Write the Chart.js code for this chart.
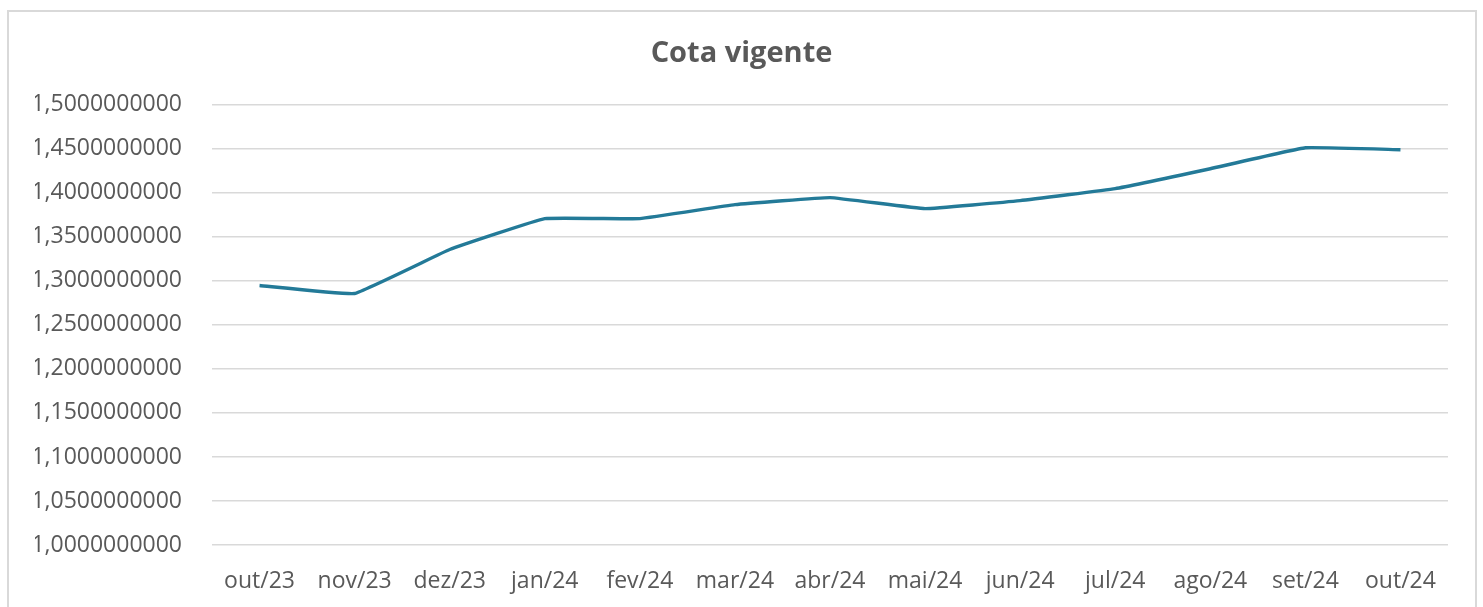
<!DOCTYPE html>
<html>
<head>
<meta charset="utf-8">
<script src="https://cdn.jsdelivr.net/npm/chart.js@4"></script>
<style>
  html, body { margin: 0; padding: 0; background: #fff; overflow: hidden; }
  #frame { position: absolute; left: 7px; top: 10px; width: 1466px; height: 640px; border: 2px solid #d9d9d9; }
  #wrap { position: absolute; left: 0; top: 0; width: 1483px; height: 607px; }
</style>
</head>
<body>
<div id="frame"></div>
<div id="wrap"><canvas id="cota"></canvas></div>
<script>
const months = ['out/23', 'nov/23', 'dez/23', 'jan/24', 'fev/24', 'mar/24', 'abr/24',
  'mai/24', 'jun/24', 'jul/24', 'ago/24', 'set/24', 'out/24'];
const cotaVigente = [1.2948, 1.2857, 1.3356, 1.3707, 1.3707, 1.3866, 1.3946,
  1.3821, 1.3912, 1.4048, 1.4274, 1.4512, 1.4490];
const yMin = 1.0, yMax = 1.5, yStep = 0.05;

const ctx = document.getElementById('cota');
new Chart(ctx, {
  type: 'line',
  data: {
    labels: months,
    datasets: [{
      label: 'Cota vigente',
      data: cotaVigente,
      borderColor: '#237a98',
      borderWidth: 3.4,
      pointRadius: 0,
      tension: 0.08,
      fill: false
    }]
  },
  options: {
    responsive: true,
    maintainAspectRatio: false,
    animation: false,
    // equal side padding keeps the title centred on the page
    layout: { padding: { left: 35, right: 35, top: 10, bottom: 0 } },
    plugins: {
      legend: { display: false },
      tooltip: { enabled: false },
      title: {
        display: true,
        text: 'Cota vigente',
        color: '#595959',
        font: { family: 'Open Sans', size: 29, weight: 'bold' },
        padding: { top: 26, bottom: 34 }
      }
    },
    scales: {
      x: {
        offset: true,
        afterFit: s => { s.height = 62; },
        grid: { display: false },
        border: { display: false },
        ticks: {
          color: '#595959',
          font: { family: 'Open Sans', size: 23 },
          padding: 15,
          maxRotation: 0
        }
      },
      y: {
        min: yMin,
        max: yMax,
        afterFit: s => { s.width = 177; },
        grid: { color: '#d9d9d9', lineWidth: 1.5, drawTicks: false },
        border: { display: false },
        ticks: {
          stepSize: yStep,
          color: '#595959',
          font: { family: 'Open Sans', size: 23 },
          padding: 30,
          callback: v => v.toFixed(10).replace('.', ',')
        }
      }
    }
  }
});
</script>
</body>
</html>
